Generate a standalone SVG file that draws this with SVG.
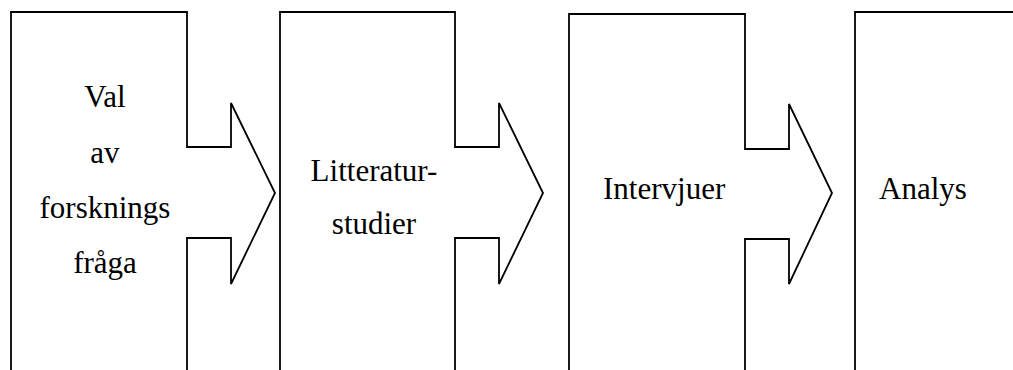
<svg xmlns="http://www.w3.org/2000/svg" width="1013" height="370" viewBox="0 0 1013 370">
<style>
.s{fill:#fff;stroke:#000;stroke-width:1.8;stroke-linejoin:miter}
.t{font-family:"Liberation Serif","Times New Roman",serif;font-size:31px;fill:#000}
.c{text-anchor:middle}
</style>
<rect width="1013" height="370" fill="#fff"/>
<g id="node1">
<path class="s" d="M11,380 L11,12 L187,12 L187,147 L231,147 L231,103 L275,193 L231,284 L231,238 L187,238 L187,380"/>
<text class="t c" x="105" y="107">Val</text>
<text class="t c" x="105" y="163">av</text>
<text class="t c" x="105" y="218">forsknings</text>
<text class="t c" x="105" y="273">fråga</text>
</g>
<g id="node2">
<path class="s" d="M280,380 L280,12 L455,12 L455,147 L499,147 L499,103 L543,193 L499,284 L499,238 L455,238 L455,380"/>
<text class="t c" x="374" y="181">Litteratur-</text>
<text class="t c" x="374" y="234">studier</text>
</g>
<g id="node3">
<path class="s" d="M569,380 L569,14 L745,14 L745,149 L789,149 L789,104 L832,193 L789,284 L789,239 L745,239 L745,380"/>
<text class="t" x="603" y="199">Intervjuer</text>
</g>
<g id="node4">
<path class="s" d="M855,380 L855,12 L1020,12 L1020,380"/>
<text class="t" x="879" y="199">Analys</text>
</g>
<g id="connectors"></g>
</svg>
